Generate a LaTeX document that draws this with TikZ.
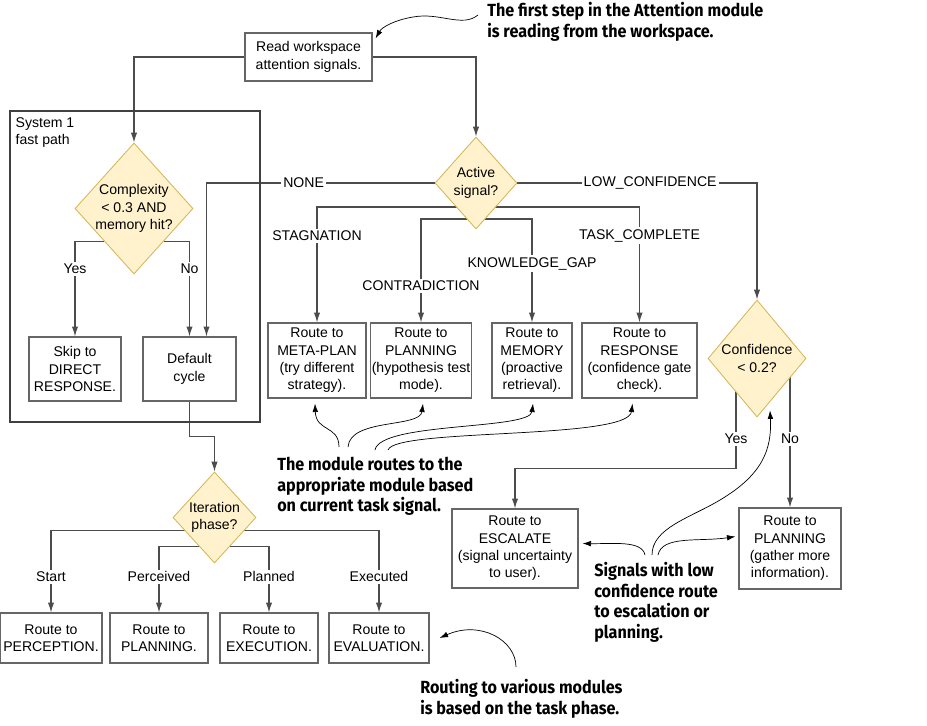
\documentclass[tikz,border=0pt]{standalone}
\usepackage{fontspec}
\setmainfont{Liberation Sans}
\newfontfamily\notefont[FakeStretch=0.92]{Fira Sans}
\usetikzlibrary{shapes.geometric,arrows.meta,backgrounds}
\definecolor{decfill}{HTML}{FFF2CC}
\definecolor{decdraw}{HTML}{D6B656}
\definecolor{boxgray}{HTML}{666666}
\tikzset{
  >={Latex[length=7pt,width=4.5pt]},
  box/.style={draw=boxgray, line width=0.8pt, fill=white, align=center, inner sep=1pt},
  decision/.style={diamond, draw=decdraw, fill=decfill, line width=0.6pt, align=center, inner sep=-4pt},
  line/.style={draw=black!70, line width=0.8pt},
  lbl/.style={fill=white, inner sep=1.5pt},
  note/.style={font=\notefont\bfseries\fontsize{12.5}{14.7}\selectfont, align=left, anchor=north west, inner sep=0pt},
  callout/.style={->, black, line width=0.5pt, >={Latex[length=6pt,width=4pt]}},
}
\begin{document}
\begin{tikzpicture}[x=0.025cm, y=-0.025cm, font=\fontsize{10}{12.3}\selectfont]
\useasboundingbox (0,0) rectangle (927,725);

% fast path group
\node[draw=black!75, line width=0.8pt, minimum width=6.25cm, minimum height=7.775cm, inner sep=0pt] (sys) at (135,266.5) {};
\node[anchor=north west, align=left, inner sep=0pt] (syslbl) at ([shift={(6,7)}]sys.north west) {System 1\\fast path};

% decisions
\node[decision, minimum width=2.05cm, minimum height=2.3cm] (act) at (476,183) {Active\\signal?};
\node[decision, minimum width=2.95cm, minimum height=3.275cm] (cx) at (134,208.5) {Complexity\\< 0.3 AND\\memory hit?};
\node[decision, minimum width=2.45cm, minimum height=2.925cm] (conf) at (757,358.5) {Confidence\\< 0.2?};
\node[decision, minimum width=2.075cm, minimum height=2.275cm] (iter) at (214.5,517.5) {Iteration\\phase?};

% boxes
\node[box, minimum width=3.175cm, minimum height=1.2cm] (read) at (308.5,57) {Read workspace\\attention signals.};
\node[box, minimum width=2.3cm, minimum height=1.6cm] (skip) at (75,369) {Skip to\\DIRECT\\RESPONSE.};
\node[box, minimum width=2.325cm, minimum height=1.6cm] (default) at (189.5,369) {Default\\cycle};
\node[box, minimum width=2.45cm, minimum height=1.875cm] (meta) at (317,360.5) {Route to\\META-PLAN\\(try different\\strategy).};
\node[box, minimum width=2.4cm, minimum height=1.875cm] (planhyp) at (421,360.5) {Route to\\PLANNING\\(hypothesis test\\mode).};
\node[box, minimum width=2.0cm, minimum height=1.875cm] (memory) at (532,360.5) {Route to\\MEMORY\\(proactive\\retrieval).};
\node[box, minimum width=2.875cm, minimum height=1.875cm] (resp) at (639.5,360.5) {Route to\\RESPONSE\\(confidence gate\\check).};
\node[box, minimum width=3.15cm, minimum height=1.975cm] (esc) at (515,548.5) {Route to\\ESCALATE\\(signal uncertainty\\to user).};
\node[box, minimum width=2.55cm, minimum height=2.025cm] (gather) at (790,548.5) {Route to\\PLANNING\\(gather more\\information).};
\node[box, minimum width=2.55cm, minimum height=1.25cm] (perc) at (51,638) {Route to\\PERCEPTION.};
\node[box, minimum width=2.45cm, minimum height=1.25cm] (plan) at (159,638) {Route to\\PLANNING.};
\node[box, minimum width=2.45cm, minimum height=1.25cm] (exec) at (269,638) {Route to\\EXECUTION.};
\node[box, minimum width=2.5cm, minimum height=1.25cm] (evalu) at (379,638) {Route to\\EVALUATION.};

% connectors
\begin{scope}[on background layer]
\draw[line,->] (read.west) -| (cx.north);
\draw[line,->] (read.east) -| (act.north);
\draw[line,->] (cx.south west) -| (skip.north) node[lbl,pos=0.646]{Yes};
\draw[line,->] (cx.south east) -| (default.north) node[lbl,pos=0.646]{No};
\draw[line,->] (act.west) -| ([shift={(17,0)}]default.north) node[lbl,pos=0.287]{NONE};
\draw[line,->] (act.east) -| (conf.north) node[lbl,pos=0.277]{LOW\_CONFIDENCE};
\draw[line,->] ([shift={(0,24)}]act.center) -| (meta.north) node[lbl,pos=0.625]{STAGNATION};
\draw[line,->] ([shift={(0,24)}]act.center) -| (resp.north) node[lbl,pos=0.625]{TASK\_COMPLETE};
\draw[line,->] ([shift={(0,36)}]act.center) -| (planhyp.north) node[lbl,pos=0.822]{CONTRADICTION};
\draw[line,->] ([shift={(0,36)}]act.center) -| (memory.north) node[lbl,pos=0.716]{KNOWLEDGE\_GAP};
\draw[line,->] ([shift={(-21,0)}]conf.center) -- ++(0,110) node[lbl,pos=0.73]{Yes} -| (esc.north);
\draw[line,->] (conf.center -| gather.north) -- (gather.north) node[lbl,pos=0.54]{No};
\draw[line,->] (default.south) -- ++(0,35) -| (iter.north);
\draw[line,->] ([shift={(0,13)}]iter.center) -| (perc.north) node[lbl,pos=0.783]{Start};
\draw[line,->] ([shift={(0,13)}]iter.center) -| (evalu.north) node[lbl,pos=0.783]{Executed};
\draw[line,->] ([shift={(0,29)}]iter.center) -| (plan.north) node[lbl,pos=0.73]{Perceived};
\draw[line,->] ([shift={(0,29)}]iter.center) -| (exec.north) node[lbl,pos=0.73]{Planned};
\end{scope}

% notes
\node[note] (note1) at (487,2) {The first step in the Attention module\\is reading from the workspace.};
\node[note] (modnote) at (277,457) {The module routes to the\\appropriate module based\\on current task signal.};
\node[note] (signote) at (594,562) {Signals with low\\confidence route\\to escalation or\\planning.};
\node[note] (routnote) at (420,679) {Routing to various modules\\is based on the task phase.};

\coordinate (t1) at (478,15);
\coordinate (m1) at (339,447);
\coordinate (m2) at (348,447);
\coordinate (m3) at (375,450);
\coordinate (m4) at (388,450);
\coordinate (s1) at (645,555);
\coordinate (s2) at (652,555);
\coordinate (s3) at (658,555);
\coordinate (r1) at (516,667);

\draw[callout] (t1) .. controls (462,28) and (440,12) .. (413,17) .. controls (395,20) and (382,27) .. ([shift={(3,6)}]read.north east);
\draw[callout] (m1) .. controls (339,425) and (316,432) .. ([shift={(-2,5)}]meta.south);
\draw[callout] (m2) .. controls (350,418) and (420,428) .. ([shift={(2,5)}]planhyp.south);
\draw[callout] (m3) .. controls (380,422) and (530,430) .. ([shift={(1,5)}]memory.south);
\draw[callout] (m4) .. controls (395,428) and (628,440) .. ([shift={(-7,5)}]resp.south);
\draw[callout] (s1) .. controls (642,540) and (612,544) .. ([shift={(4,-5)}]esc.east);
\draw[callout] (s2) .. controls (652,528) and (690,518) .. (720,500) .. controls (762,475) and (772,450) .. ([shift={(13,-7)}]conf.south);
\draw[callout] (s3) .. controls (662,535) and (700,542) .. ([shift={(-3,-12)}]gather.west);
\draw[callout] (r1) .. controls (516,640) and (480,620) .. ([shift={(10,0)}]evalu.east);
\end{tikzpicture}
\end{document}
